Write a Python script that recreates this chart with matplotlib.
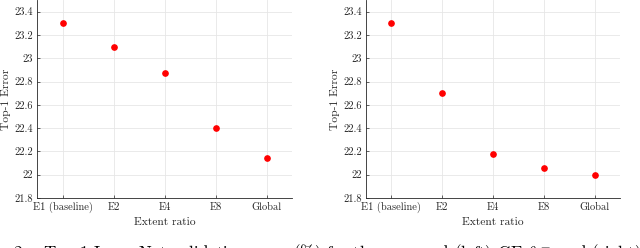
import matplotlib
matplotlib.use("Agg")
import matplotlib.pyplot as plt

# Data
categories = ["E1 (baseline)", "E2", "E4", "E8", "Global"]
err_left = [23.3, 23.1, 22.87, 22.4, 22.14]
err_right = [23.3, 22.7, 22.18, 22.06, 22.0]
yticks = [21.8, 22.0, 22.2, 22.4, 22.6, 22.8, 23.0, 23.2, 23.4]
ytick_labels = ["21.8", "22", "22.2", "22.4", "22.6", "22.8", "23", "23.2", "23.4"]

plt.rcParams['font.family'] = 'serif'
plt.rcParams['font.serif'] = ['cmr10']
plt.rcParams['mathtext.fontset'] = 'cm'
plt.rcParams['axes.unicode_minus'] = False

fig = plt.figure(figsize=(6.4, 2.48), dpi=100)

def draw(ax, values, label_x):
    x = list(range(1, len(categories) + 1))
    ax.plot(x, values, 'o', color='#ff0000', markersize=3.8, zorder=3)
    ax.set_xlim(0.5, 5.5)
    ax.set_ylim(21.8, 23.5)
    ax.set_xticks(x)
    ax.set_xticklabels(categories)
    ax.set_yticks(yticks)
    ax.set_yticklabels(ytick_labels)
    ax.grid(True, color='#e6e6e6', linewidth=0.6)
    ax.set_axisbelow(True)
    for s in ['top', 'right']:
        ax.spines[s].set_visible(False)
    for s in ['left', 'bottom']:
        ax.spines[s].set_color('#262626')
        ax.spines[s].set_linewidth(0.6)
    ax.tick_params(direction='in', length=2.5, width=0.5, colors='#262626',
                   labelsize=7.5, pad=3)
    ax.set_xlabel('Extent ratio', fontsize=8.3, color='#262626', labelpad=3)
    ax.set_ylabel('Top-1 Error', fontsize=8.3, color='#262626')
    ax.yaxis.set_label_coords(label_x, 0.5)

ax1 = fig.add_axes([37 / 640, 50 / 248, 255 / 640, 198 / 248])
draw(ax1, err_left, -0.1)
ax2 = fig.add_axes([366 / 640, 50 / 248, 254 / 640, 198 / 248])
draw(ax2, err_right, -0.104)

fig.text(13 / 640, 6 / 248,
         r"2:   Top-1 ImageNet validation error (%) for the proposed (left) GE-$\theta^{=}$ and (right)",
         fontsize=12.3, va='top', ha='left', color='black')

fig.savefig('out.png', dpi=100)
